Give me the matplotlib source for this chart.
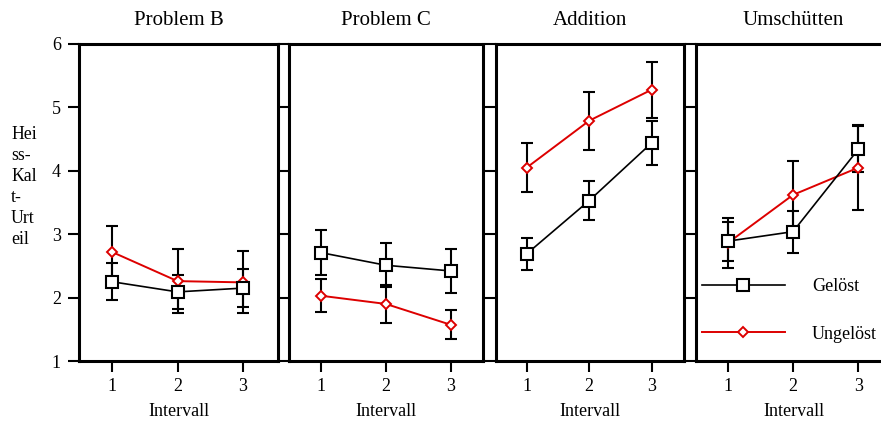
import matplotlib
matplotlib.use('Agg')
import matplotlib.pyplot as plt
from matplotlib.lines import Line2D

plt.rcParams['font.family'] = ['Liberation Serif', 'DejaVu Serif']

titles = ['Problem B', 'Problem C', 'Addition', 'Umschütten']
intervals = [1, 2, 3]
geloest = [[2.25, 2.09, 2.15], [2.71, 2.51, 2.42], [2.69, 3.53, 4.44], [2.89, 3.04, 4.34]]
geloest_err = [[0.29, 0.27, 0.30], [0.35, 0.35, 0.34], [0.25, 0.31, 0.35], [0.31, 0.33, 0.36]]
ungeloest = [[2.72, 2.26, 2.24], [2.03, 1.90, 1.57], [4.05, 4.79, 5.28], [2.86, 3.62, 4.05]]
ungeloest_err = [[0.41, 0.50, 0.49], [0.26, 0.30, 0.23], [0.39, 0.46, 0.44], [0.40, 0.53, 0.67]]
yticks = [1, 2, 3, 4, 5, 6]
series_labels = ['Gelöst', 'Ungelöst']

RED = '#dd0000'
W, H = 881, 421
fig = plt.figure(figsize=(W / 100, H / 100), dpi=100)

# panel pixel extents (left, right, xlim)
panels = [(79, 278, (0.496, 3.534)), (289, 483, (0.513, 3.491)),
          (496, 684, (0.509, 3.517)), (696, 891, (0.515, 3.50))]
top_px, bot_px = 44, 361

axes = []
for i, (l, r, xl) in enumerate(panels):
    ax = fig.add_axes([l / W, (H - bot_px) / H, (r - l) / W, (bot_px - top_px) / H])
    axes.append(ax)
    ax.set_xlim(*xl)
    ax.set_ylim(1, 6)
    for s in ax.spines.values():
        s.set_linewidth(2.2)
    ax.set_xticks(intervals)
    ax.set_yticks(yticks)
    ax.tick_params(axis='both', direction='out', length=8, width=1.5, labelsize=13)
    ax.tick_params(axis='y', pad=5)
    ax.tick_params(axis='x', pad=4.5)
    if i > 0:
        ax.set_yticklabels([])
    ax.set_title(titles[i], fontsize=15, pad=13.5)
    ax.set_xlabel('Intervall', fontsize=13, labelpad=5.5)

    # error bars (black for both series)
    ax.errorbar(intervals, ungeloest[i], yerr=ungeloest_err[i], fmt='none', ecolor='black',
                elinewidth=1.5, capsize=4.5, capthick=1.5, zorder=1)
    ax.errorbar(intervals, geloest[i], yerr=geloest_err[i], fmt='none', ecolor='black',
                elinewidth=1.5, capsize=4.5, capthick=1.5, zorder=1)
    ax.plot(intervals, ungeloest[i], color=RED, lw=1.4, marker='D', ms=5.6, mew=1.4,
            mfc='white', mec=RED, zorder=2)
    ax.plot(intervals, geloest[i], color='black', lw=1.2, marker='s', ms=8.2, mew=1.5,
            mfc='white', mec='black', zorder=3)

handles = [Line2D([], [], color='black', lw=1.2, marker='s', ms=8.2, mew=1.5, mfc='white', mec='black'),
           Line2D([], [], color=RED, lw=1.4, marker='D', ms=5.6, mew=1.4, mfc='white', mec=RED)]
axes[3].legend(handles, series_labels, loc='center left', bbox_to_anchor=(0.03, 0.160),
               frameon=False, fontsize=13, handlelength=4.6, handletextpad=1.5,
               borderpad=0, borderaxespad=0, labelspacing=1.71, numpoints=1)

fig.text(11 / W, (H - 187) / H, 'Hei\nss-\nKal\nt-\nUrt\neil', ha='left', va='center',
         multialignment='left', fontsize=12.8, linespacing=1.3)

fig.savefig('out.png', dpi=100)
